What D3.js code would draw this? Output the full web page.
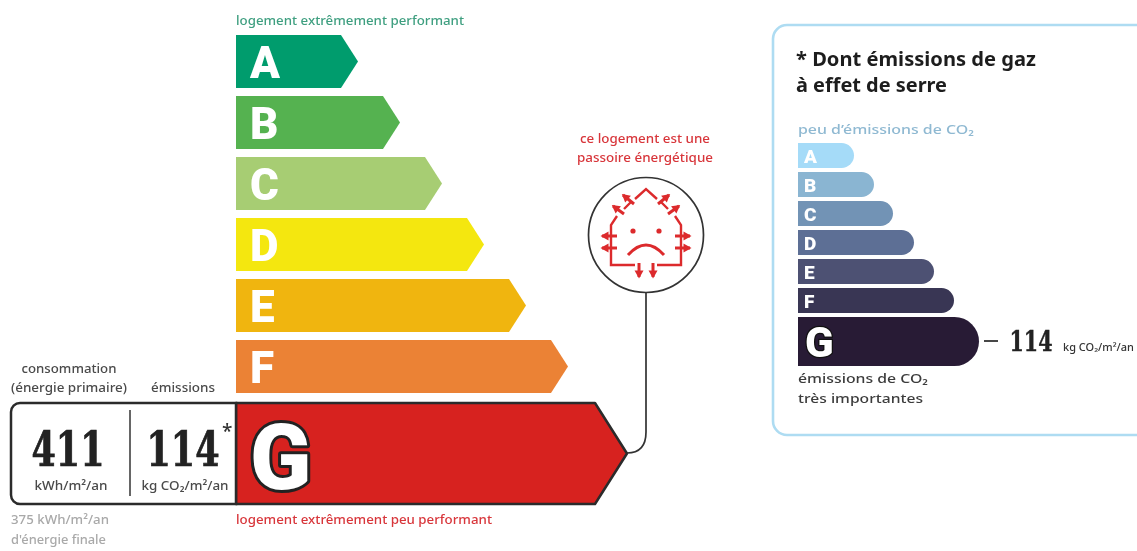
<!DOCTYPE html>
<html><head><meta charset="utf-8">
<script src="https://cdnjs.cloudflare.com/ajax/libs/d3/7.8.5/d3.min.js"></script>
<style>html,body{margin:0;padding:0;background:#fff;overflow:hidden}svg{display:block;filter:blur(0.35px)}
text{font-family:"Noto Sans",sans-serif}</style></head><body>
<svg id="c" width="1137" height="551"></svg>
<script>
const classes=["A","B","C","D","E","F","G"];
const energyLengths=[122,164,206,248,290,332,391];
const energyColors=["#009c6d","#55b250","#a7cd73","#f4e70f","#f0b50f","#eb8235","#d7221f"];
const co2Lengths=[56,76,95,116,136,156,181];
const co2Colors=["#a5dbf8","#8ab5d2","#7293b5","#5d6f95","#4d5173","#393654","#281b35"];
const consumption=411, emissions=114, finalEnergy=375;

const svg=d3.select("#c");
const T=(x,y,s,o={})=>svg.append("text").attr("x",x).attr("y",y).text(s)
  .attr("font-size",o.size||12.5).attr("fill",o.fill||"#4a4a4a").attr("text-anchor",o.anchor||"start")
  .attr("font-weight",o.weight||500).style("font-family",o.font||null)
  .attr("textLength",o.len||null).attr("lengthAdjust",o.len?"spacingAndGlyphs":null);

// ---------- main scale
const xMain=d3.scaleLinear().domain([0,391]).range([236,627]);
const yMain=d3.scaleBand().domain(classes.slice(0,6)).range([35,393]).paddingInner(8/61).paddingOuter(0);
const mainRows=classes.slice(0,6).map((c,i)=>({c,len:energyLengths[i],col:energyColors[i]}));
const arrow=d3.line();
const g=svg.append("g");
g.selectAll("path").data(mainRows).join("path")
 .attr("fill",d=>d.col)
 .attr("d",d=>{const y=yMain(d.c),h=yMain.bandwidth(),x0=xMain(0),x1=xMain(d.len);
   return arrow([[x0,y],[x1-17,y],[x1,y+h/2],[x1-17,y+h],[x0,y+h]])+"Z";});
g.selectAll("text").data(mainRows).join("text")
 .attr("x",d=>xMain(0)+14).attr("y",d=>yMain(d.c)+43).text(d=>d.c)
 .attr("font-size",44).attr("font-weight",900).attr("fill","#fff").style("font-family","Roboto");

// ---------- G row with the value box
const gTop=403,gBot=504,x0=xMain(0),xTip=xMain(energyLengths[6]);
svg.append("path").attr("fill",energyColors[6]).attr("stroke","#2b2b2b").attr("stroke-width",2.5)
 .attr("stroke-linejoin","round")
 .attr("d",arrow([[x0,gTop],[xTip-32,gTop],[xTip,(gTop+gBot)/2],[xTip-32,gBot],[x0,gBot]])+"Z");
svg.append("path").attr("fill","#fff").attr("stroke","#2b2b2b").attr("stroke-width",2.5)
 .attr("d",`M${x0},${gTop}H20a9,9 0 0 0 -9,9V${gBot-9}a9,9 0 0 0 9,9H${x0}Z`);
svg.append("line").attr("x1",130).attr("x2",130).attr("y1",410).attr("y2",496).attr("stroke","#333").attr("stroke-width",1.5);
svg.append("text").attr("x",250).attr("y",489).text("G").attr("font-size",90).attr("font-weight",900)
 .style("font-family","Roboto").attr("fill","#fff").attr("stroke","#222").attr("stroke-width",6)
 .attr("stroke-linejoin","round").style("paint-order","stroke");

const serif="DejaVu Serif";
const stretch=s=>s.style("font-stretch","condensed").attr("stroke","#222");
stretch(T(68,466,consumption,{size:48,weight:700,anchor:"middle",font:serif,fill:"#222",len:73})).attr("stroke-width",.7);
stretch(T(183,466,emissions,{size:48,weight:700,anchor:"middle",font:serif,fill:"#222",len:73})).attr("stroke-width",.7);
T(222,438,"*",{size:19,fill:"#333"});
T(71,490,"kWh/m²/an",{anchor:"middle",size:12.5,len:73});
T(185,490,"kg CO₂/m²/an",{anchor:"middle",size:12.5,len:87});
T(69,373,"consommation",{anchor:"middle",size:12.5,len:95});
T(69,392,"(énergie primaire)",{anchor:"middle",size:12.5,len:116});
T(183,392,"émissions",{anchor:"middle",size:12.5,len:64});
T(11,524,`${finalEnergy} kWh/m²/an`,{fill:"#a9a9a9",size:12.5,len:98});
T(11,544,"d'énergie finale",{fill:"#a9a9a9",size:12.5,len:95});
T(236,25,"logement extrêmement performant",{fill:"#3f9f80",size:13,len:228});
T(236,524,"logement extrêmement peu performant",{fill:"#d8363b",size:13,len:256});

// ---------- passoire
T(645,143,"ce logement est une",{anchor:"middle",fill:"#d8363b",size:12.5,len:130});
T(645,162,"passoire énergétique",{anchor:"middle",fill:"#d8363b",size:12.5,len:136});
const cx=646,cy=235,r=57.5;
svg.append("path").attr("fill","none").attr("stroke","#333").attr("stroke-width",1.7)
 .attr("d",`M${cx},${cy+r}V432Q${cx},453 ${xTip},453`);
svg.append("circle").attr("cx",cx).attr("cy",cy).attr("r",r).attr("fill","#fff").attr("stroke","#333").attr("stroke-width",1.7);
const ic=svg.append("g").attr("transform",`translate(${cx},${cy})`).attr("stroke","#dc2a2c").attr("fill","none").attr("stroke-width",2.4);
ic.append("path").attr("d","M-11,30H-35V-10L-29,-19M-22,-26L-15,-33M-11,-36L0,-46L11,-36M15,-33L22,-26M29,-19L35,-10V30H11");
ic.append("path").attr("d","M-18,20Q0,0 18,20").attr("stroke-width",3);
ic.selectAll("circle").data([-13,13]).join("circle").attr("cx",d=>d).attr("cy",-4).attr("r",2.6).attr("fill","#dc2a2c").attr("stroke","none");
const arr=[[-29,1,-44,1],[-29,13,-44,13],[29,1,44,1],[29,13,44,13],[-7,28,-7,42],[7,28,7,42],
 [-22,-21,-33,-29],[-12,-31,-23,-40],[12,-31,23,-40],[22,-21,33,-29]];
ic.selectAll("g").data(arr).join("g").each(function(d){
  const s=d3.select(this),a=Math.atan2(d[3]-d[1],d[2]-d[0]),L=6.5;
  s.append("line").attr("x1",d[0]).attr("y1",d[1]).attr("x2",d[2]).attr("y2",d[3]).attr("stroke-width",3);
  s.append("path").attr("fill","#dc2a2c").attr("stroke","none").attr("d",arrow([
   [d[2]+Math.cos(a)*1.5,d[3]+Math.sin(a)*1.5],
   [d[2]-L*Math.cos(a)-4.5*Math.sin(a),d[3]-L*Math.sin(a)+4.5*Math.cos(a)],
   [d[2]-L*Math.cos(a)+4.5*Math.sin(a),d[3]-L*Math.sin(a)-4.5*Math.cos(a)]])+"Z");
});

// ---------- CO2 panel
svg.append("rect").attr("x",773).attr("y",25).attr("width",420).attr("height",410).attr("rx",14)
 .attr("fill","#fff").attr("stroke","#aedcf2").attr("stroke-width",2.6);
T(796,66,"* Dont émissions de gaz",{size:19,weight:700,fill:"#1d1d1d",len:240});
T(796,92,"à effet de serre",{size:19,weight:700,fill:"#1d1d1d",len:151});
T(798,134,"peu d’émissions de CO₂",{fill:"#8fb9d2",size:13,len:176});
const xCo2=d3.scaleLinear().domain([0,181]).range([798,979]);
const yCo2=d3.scaleBand().domain(classes.slice(0,6)).range([143,313]).paddingInner(4/29).paddingOuter(0);
const co2Rows=classes.map((c,i)=>({c,len:co2Lengths[i],col:co2Colors[i]}));
const pill=(y,h,x1)=>{const r=h/2;return `M${xCo2(0)},${y}H${x1-r}A${r},${r} 0 0 1 ${x1-r},${y+h}H${xCo2(0)}Z`;};
const g2=svg.append("g");
g2.selectAll("path").data(co2Rows).join("path").attr("fill",d=>d.col)
 .attr("d",d=>d.c==="G"?pill(317,49,xCo2(d.len)):pill(yCo2(d.c),yCo2.bandwidth(),xCo2(d.len)));
g2.selectAll("text").data(co2Rows.slice(0,6)).join("text")
 .attr("x",xCo2(0)+6).attr("y",d=>yCo2(d.c)+19.5).text(d=>d.c).attr("font-size",19).attr("font-weight",900)
 .attr("fill","#fff").style("font-family","Roboto");
svg.append("text").attr("x",805).attr("y",357).text("G").attr("font-size",42).attr("font-weight",900)
 .style("font-family","Roboto").attr("fill","#fff").attr("stroke","#111").attr("stroke-width",2.5)
 .style("paint-order","stroke");
svg.append("line").attr("x1",984).attr("x2",998).attr("y1",341).attr("y2",341).attr("stroke","#333").attr("stroke-width",1.8);
stretch(T(1031,351,emissions,{size:28,weight:700,font:serif,anchor:"middle",fill:"#222",len:43})).attr("stroke-width",.4);
T(1063,351,"kg CO₂/m²/an",{size:10,fill:"#333",len:71});
T(798,383,"émissions de CO₂",{size:13,fill:"#3c3c3c",len:130});
T(798,403,"très importantes",{size:13,fill:"#3c3c3c",len:125});
</script></body></html>
